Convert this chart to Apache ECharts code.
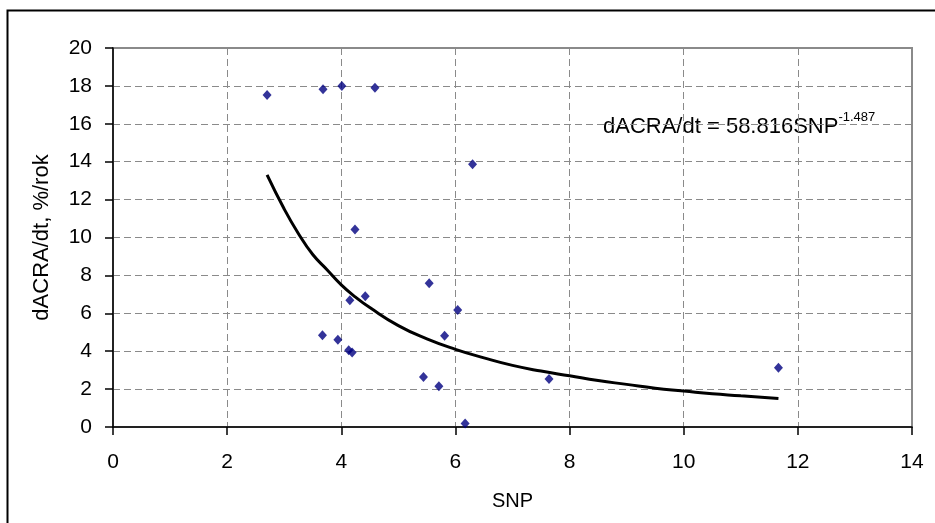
<!DOCTYPE html>
<html>
<head>
<meta charset="utf-8">
<script src="https://cdn.jsdelivr.net/npm/echarts@6/dist/echarts.min.js"></script>
<style>
html,body{margin:0;padding:0;background:#fff;}
#c{width:935px;height:523px;}
</style>
</head>
<body>
<div id="c"></div>
<script>
// Observed points (SNP, dACRA/dt)
const snpValues = [2.70, 3.68, 4.01, 4.59, 6.30, 4.24, 5.54, 6.04, 5.81, 4.15, 4.42, 3.67, 3.94, 4.13, 4.19, 5.44, 5.71, 6.17, 7.64, 11.66];
const rateValues = [17.52, 17.82, 18.0, 17.9, 13.87, 10.42, 7.58, 6.18, 4.82, 6.69, 6.9, 4.84, 4.61, 4.05, 3.93, 2.64, 2.15, 0.18, 2.53, 3.13];
// Power trendline
const trendX = [2.7, 3, 3.25, 3.5, 3.75, 4, 4.25, 4.5, 5, 5.5, 6, 6.5, 7, 7.5, 8, 8.5, 9, 9.5, 10, 10.5, 11, 11.66];
const trendY = [13.3, 11.5, 10.2, 9.1, 8.3, 7.5, 6.85, 6.3, 5.35, 4.65, 4.1, 3.65, 3.25, 2.95, 2.7, 2.45, 2.25, 2.05, 1.9, 1.75, 1.65, 1.5];
const xTicks = [0, 2, 4, 6, 8, 10, 12, 14];
const yTicks = [0, 2, 4, 6, 8, 10, 12, 14, 16, 18, 20];
const xName = 'SNP';
const yName = 'dACRA/dt, %/rok';
const eqMain = 'dACRA/dt = 58.816SNP';
const eqExp = '-1.487';

const font = 'Liberation Sans, Arial, sans-serif';
const chart = echarts.init(document.getElementById('c'), null, {renderer: 'canvas'});
chart.setOption({
  animation: false,
  backgroundColor: '#fff',
  grid: {left: 113, right: 23, top: 48, bottom: 96, show: true, borderColor: '#8a8a8a', borderWidth: 2},
  xAxis: {
    type: 'value', min: xTicks[0], max: xTicks[xTicks.length - 1], interval: 2,
    axisLine: {show: true, onZero: false, lineStyle: {color: '#000', width: 1.5}},
    axisTick: {show: true, length: 8, lineStyle: {color: '#000', width: 1.5}},
    axisLabel: {color: '#000', fontSize: 21, fontFamily: font, margin: 25},
    splitLine: {show: true, lineStyle: {color: '#8a8a8a', width: 1, type: [7, 4]}},
    name: xName, nameLocation: 'middle', nameGap: 64,
    nameTextStyle: {color: '#000', fontSize: 20, fontFamily: font}
  },
  yAxis: {
    type: 'value', min: yTicks[0], max: yTicks[yTicks.length - 1], interval: 2,
    axisLine: {show: true, onZero: false, lineStyle: {color: '#000', width: 1.5}},
    axisTick: {show: true, length: 8, lineStyle: {color: '#000', width: 1.5}},
    axisLabel: {color: '#000', fontSize: 21, fontFamily: font, margin: 21},
    splitLine: {show: true, lineStyle: {color: '#8a8a8a', width: 1, type: [7, 4]}},
    name: yName, nameLocation: 'middle', nameGap: 60, nameRotate: 90,
    nameTextStyle: {color: '#000', fontSize: 22, fontFamily: font}
  },
  graphic: [
    {type: 'rect', left: 5, top: 8, shape: {width: 940, height: 530}, style: {fill: 'none', stroke: '#000', lineWidth: 2}, silent: true},
    {type: 'text', left: 603, top: 111, style: {
      text: '{a|' + eqMain + '}{b|' + eqExp + '}',
      rich: {
        a: {fontSize: 22, fontFamily: font, fill: '#000', lineHeight: 27, verticalAlign: 'bottom'},
        b: {fontSize: 13, fontFamily: font, fill: '#000', lineHeight: 27, verticalAlign: 'top'}
      }
    }}
  ],
  series: [
    {
      type: 'line', data: trendX.map((x, i) => [x, trendY[i]]), smooth: true, showSymbol: false, symbol: 'none',
      lineStyle: {color: '#000', width: 3}, z: 2
    },
    {
      type: 'scatter', data: snpValues.map((x, i) => [x, rateValues[i]]), symbol: 'diamond', symbolSize: [9, 10],
      itemStyle: {color: '#000080'}, z: 3
    }
  ]
});
</script>
</body>
</html>
